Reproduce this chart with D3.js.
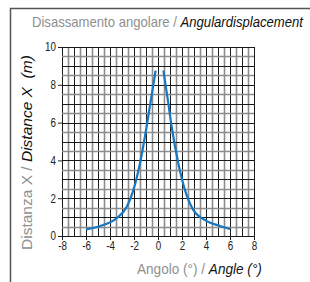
<!DOCTYPE html>
<html>
<head>
<meta charset="utf-8">
<script src="https://cdn.jsdelivr.net/npm/d3@7"></script>
<style>
  body { margin: 0; background: #fff; }
  svg { display: block; font-family: "Liberation Sans Narrow", "Arial Narrow", "Liberation Sans", sans-serif; }
</style>
</head>
<body>
<div id="chart"></div>
<script>
// Chart data
var xTicks = [-8, -6, -4, -2, 0, 2, 4, 6, 8];
var yTicks = [0, 2, 4, 6, 8, 10];
// left branch of the curve (angle, distance)
var leftAngle = [-6, -4.8, -3.45, -2.6, -2.05, -1.5, -0.95, -0.55, -0.2];
var leftDist = [0.35, 0.53, 0.94, 1.55, 2.43, 3.85, 5.78, 7.37, 8.75];
// right branch of the curve
var rightAngle = [0.45, 0.78, 1.14, 1.69, 2.25, 2.94, 4.06, 5.17, 6];
var rightDist = [8.75, 7.37, 5.78, 3.85, 2.43, 1.38, 0.79, 0.53, 0.37];

var svgWidth = 310;
var svgHeight = 282;

var margin = { top: 47, left: 62 };
var width = 192;
var height = 189;

var svg = d3.select("#chart")
    .append("svg")
    .attr("width", svgWidth)
    .attr("height", svgHeight);

// outer frame (only top and left edges are visible)
svg.append("path")
    .attr("d", "M10.5,282 L10.5,8.5 L310,8.5")
    .attr("fill", "none")
    .attr("stroke", "#555")
    .attr("stroke-width", 1.5);

var chartGroup = svg.append("g")
    .attr("transform", `translate(${margin.left}, ${margin.top})`);

var x = d3.scaleLinear().domain([-8, 8]).range([0, width]);
var y = d3.scaleLinear().domain([0, 10]).range([height, 0]);

// grid: half-unit lines in grey, unit lines in black
var xGrid = d3.range(-8, 8.01, 0.5);
var yGrid = d3.range(0, 10.01, 0.5);

function isMajor(v) { return Math.abs(v - Math.round(v)) < 1e-6; }

chartGroup.selectAll(".vgrid")
    .data(xGrid.filter(d => !isMajor(d)).concat(xGrid.filter(isMajor)))
    .enter()
    .append("line")
    .attr("x1", d => Math.round(x(d)) + 0.5)
    .attr("x2", d => Math.round(x(d)) + 0.5)
    .attr("y1", 0)
    .attr("y2", height)
    .attr("stroke", d => isMajor(d) ? "#1a1a1a" : "#8c8c8c")
    .attr("stroke-width", d => isMajor(d) ? 1 : 1.6);

chartGroup.selectAll(".hgrid")
    .data(yGrid.filter(d => !isMajor(d)).concat(yGrid.filter(isMajor)))
    .enter()
    .append("line")
    .attr("y1", d => Math.round(y(d)) + 0.5)
    .attr("y2", d => Math.round(y(d)) + 0.5)
    .attr("x1", 0)
    .attr("x2", width)
    .attr("stroke", d => isMajor(d) ? "#1a1a1a" : "#8c8c8c")
    .attr("stroke-width", d => isMajor(d) ? 1 : 1.6);

// axes
var bottomAxis = d3.axisBottom(x).tickValues(xTicks).tickSize(4).tickPadding(1)
    .tickFormat(d => String(d));
var leftAxis = d3.axisLeft(y).tickValues(yTicks).tickSize(4).tickPadding(2)
    .tickFormat(d => String(d));

var xAxis = chartGroup.append("g")
    .attr("transform", `translate(0, ${height})`)
    .call(bottomAxis);
var yAxis = chartGroup.append("g")
    .call(leftAxis);

[xAxis, yAxis].forEach(function (a) {
    a.select(".domain").remove();
    a.selectAll("line").attr("stroke", "#222");
    a.selectAll("text")
        .attr("fill", "#222")
        .style("font-size", "12px")
        .style("font-family", "\"Liberation Sans Narrow\", \"Liberation Sans\", sans-serif");
});
// squeeze tick labels horizontally to look condensed
xAxis.selectAll(".tick text").attr("transform", "scale(0.82,1)");
yAxis.selectAll(".tick text")
    .attr("x", null)
    .attr("dx", null)
    .attr("transform", "translate(-6,0) scale(0.82,1)");

// curve
var line = d3.line()
    .x(d => x(d[0]))
    .y(d => y(d[1]))
    .curve(d3.curveMonotoneX);

var leftData = leftAngle.map((a, i) => [a, leftDist[i]]);
var rightData = rightAngle.map((a, i) => [a, rightDist[i]]);

[leftData, rightData].forEach(function (series) {
    chartGroup.append("path")
        .datum(series)
        .attr("d", line)
        .attr("fill", "none")
        .attr("stroke", "#1678c2")
        .attr("stroke-width", 2.2);
});

// two-part label (grey italian + black italic english), squeezed to a target width
function label(tx, ty, rot, targetWidth, it, en) {
    var g = svg.append("g");
    var t = g.append("text").style("font-size", "15px");
    t.append("tspan").attr("fill", "#8f8f8f").text(it);
    t.append("tspan").attr("fill", "#111").style("font-style", "italic").text(en);
    var w = t.node().getComputedTextLength();
    var s = targetWidth / w;
    g.attr("transform", `translate(${tx}, ${ty}) rotate(${rot}) scale(${s}, 1)`);
}

label(32, 27, 0, 271, "Disassamento angolare / ", "Angulardisplacement");
label(32, 250, -90, 195, "Distanza X / ", "Distance X\u00a0 (m)");
label(137, 274, 0, 125, "Angolo (°) / ", "Angle (°)");
</script>
</body>
</html>
